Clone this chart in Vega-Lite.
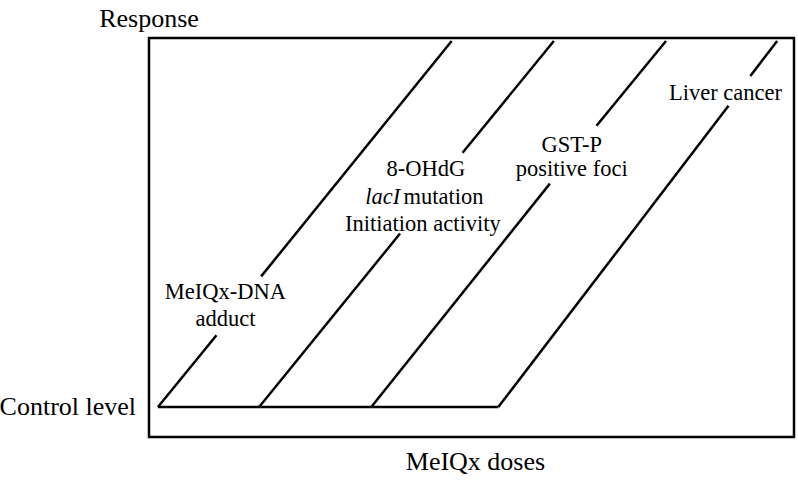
{
  "$schema": "https://vega.github.io/schema/vega-lite/v6.json",
  "width": 645,
  "height": 399,
  "autosize": "none",
  "padding": {"left": 149, "top": 38, "right": 4, "bottom": 43},
  "background": "white",
  "config": {"view": {"stroke": "black", "strokeWidth": 2.5}, "text": {"font": "Liberation Serif", "color": "black"}},
  "datasets": {
    "segments": [
      {"curve": "control", "dose": 9, "resp": 30, "dose2": 352, "resp2": 30},
      {"curve": "adduct", "dose": 9, "resp": 30, "dose2": 68, "resp2": 102},
      {"curve": "adduct", "dose": 113, "resp": 161, "dose2": 305, "resp2": 397},
      {"curve": "8-OHdG", "dose": 111, "resp": 30, "dose2": 253, "resp2": 204},
      {"curve": "8-OHdG", "dose": 316, "resp": 285, "dose2": 408, "resp2": 397},
      {"curve": "GST-P", "dose": 224, "resp": 30, "dose2": 404, "resp2": 254},
      {"curve": "GST-P", "dose": 451, "resp": 312, "dose2": 521, "resp2": 397},
      {"curve": "liver", "dose": 352, "resp": 30, "dose2": 584, "resp2": 332},
      {"curve": "liver", "dose": 606, "resp": 362, "dose2": 633, "resp2": 397}
    ],
    "labels": [
      {"group": "inner", "label": "MeIQx-DNA", "dose": 77, "resp": 138},
      {"group": "inner", "label": "adduct", "dose": 77, "resp": 111},
      {"group": "inner", "label": "8-OHdG", "dose": 279, "resp": 262},
      {"group": "italic", "label": "lacI", "dose": 218, "resp": 234},
      {"group": "rightpart", "label": "mutation", "dose": 337, "resp": 234},
      {"group": "inner", "label": "Initiation activity", "dose": 276, "resp": 207},
      {"group": "inner", "label": "GST-P", "dose": 426, "resp": 286},
      {"group": "inner", "label": "positive foci", "dose": 426, "resp": 262},
      {"group": "inner", "label": "Liver cancer", "dose": 581, "resp": 338},
      {"group": "outercenter", "label": "Response", "dose": 0, "resp": 411},
      {"group": "outercenter", "label": "MeIQx doses", "dose": 329, "resp": -33},
      {"group": "outerright", "label": "Control level", "dose": -13, "resp": 22}
    ]
  },
  "layer": [
    {
      "data": {"name": "segments"},
      "mark": {"type": "rule", "color": "black", "strokeWidth": 2.5, "clip": false},
      "encoding": {
        "x": {"field": "dose", "type": "quantitative", "scale": {"domain": [0, 645]}, "axis": null},
        "y": {"field": "resp", "type": "quantitative", "scale": {"domain": [0, 399]}, "axis": null},
        "x2": {"field": "dose2"},
        "y2": {"field": "resp2"}
      }
    },
    {
      "data": {"name": "labels"},
      "transform": [{"filter": "datum.group === 'inner'"}],
      "mark": {"type": "text", "fontSize": 22.5, "align": "center", "baseline": "alphabetic"},
      "encoding": {
        "x": {"field": "dose", "type": "quantitative"},
        "y": {"field": "resp", "type": "quantitative"},
        "text": {"field": "label"}
      }
    },
    {
      "data": {"name": "labels"},
      "transform": [{"filter": "datum.group === 'italic'"}],
      "mark": {"type": "text", "fontSize": 22.5, "fontStyle": "italic", "align": "left", "baseline": "alphabetic"},
      "encoding": {
        "x": {"field": "dose", "type": "quantitative"},
        "y": {"field": "resp", "type": "quantitative"},
        "text": {"field": "label"}
      }
    },
    {
      "data": {"name": "labels"},
      "transform": [{"filter": "datum.group === 'rightpart'"}],
      "mark": {"type": "text", "fontSize": 22.5, "align": "right", "baseline": "alphabetic"},
      "encoding": {
        "x": {"field": "dose", "type": "quantitative"},
        "y": {"field": "resp", "type": "quantitative"},
        "text": {"field": "label"}
      }
    },
    {
      "data": {"name": "labels"},
      "transform": [{"filter": "datum.group === 'outercenter'"}],
      "mark": {"type": "text", "fontSize": 26, "align": "center", "baseline": "alphabetic"},
      "encoding": {
        "x": {"field": "dose", "type": "quantitative"},
        "y": {"field": "resp", "type": "quantitative"},
        "text": {"field": "label"}
      }
    },
    {
      "data": {"name": "labels"},
      "transform": [{"filter": "datum.group === 'outerright'"}],
      "mark": {"type": "text", "fontSize": 26, "align": "right", "baseline": "alphabetic"},
      "encoding": {
        "x": {"field": "dose", "type": "quantitative"},
        "y": {"field": "resp", "type": "quantitative"},
        "text": {"field": "label"}
      }
    }
  ]
}
